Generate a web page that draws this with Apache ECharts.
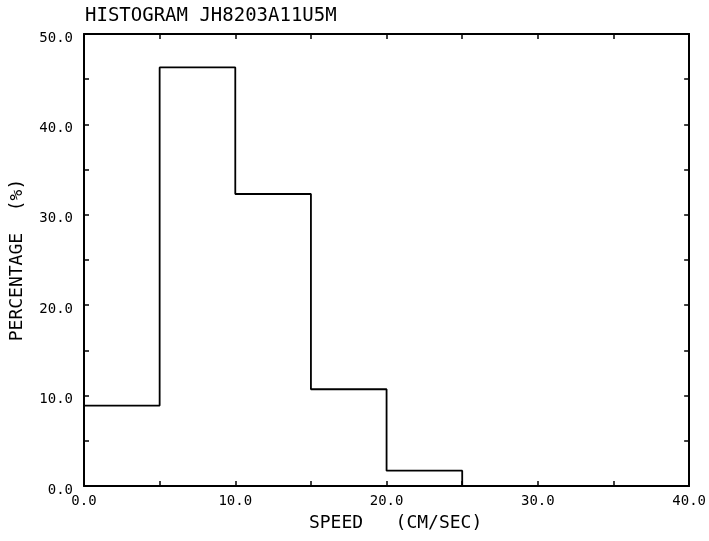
<!DOCTYPE html>
<html><head><meta charset="utf-8">
<script src="https://cdn.jsdelivr.net/npm/echarts@6/dist/echarts.min.js"></script>
<style>html,body{margin:0;padding:0;background:#fff}#c{width:709px;height:541px}</style>
</head><body><div id="c"></div>
<script>
const titleText = 'HISTOGRAM JH8203A11U5M';
const xName = 'SPEED   (CM/SEC)';
const yName = 'PERCENTAGE  (%)';
const binStarts = [0, 5, 10, 15, 20, 25, 30, 35];
const binEnd = 40;
const percentages = [8.9, 46.3, 32.3, 10.7, 1.7, 0, 0, 0];

const stepData = binStarts.map((s, i) => [s, percentages[i]]);
stepData.push([binEnd, percentages[percentages.length - 1]]);

const FONT = 'DejaVu Sans Mono';
const tickStyle = { inside: true, length: 5, lineStyle: { color: '#000', width: 1.5 } };
const lineStyle = { color: '#000', width: 2 };
const fmt = v => (v % 10 === 0 ? v.toFixed(1) : '');

const chart = echarts.init(document.getElementById('c'));
chart.setOption({
  animation: false,
  backgroundColor: '#fff',
  title: {
    text: titleText, left: 80, top: 2,
    textStyle: { fontFamily: FONT, fontSize: 19, fontWeight: 'normal', color: '#000' }
  },
  grid: { left: 84, right: 19, top: 34, bottom: 55 },
  xAxis: [{
    type: 'value', min: 0, max: 40, interval: 5, position: 'bottom',
    name: xName, nameLocation: 'middle', nameGap: 28,
    nameTextStyle: { fontFamily: FONT, fontSize: 18, color: '#000', padding: [0, 0, 0, 18] },
    axisLine: { show: true, onZero: false, lineStyle }, axisTick: tickStyle,
    axisLabel: { formatter: fmt, margin: 8, fontFamily: FONT, fontSize: 14, color: '#000' },
    splitLine: { show: false }
  }, {
    type: 'value', min: 0, max: 40, interval: 5, position: 'top',
    axisLine: { show: true, onZero: false, lineStyle }, axisTick: tickStyle,
    axisLabel: { show: false }, splitLine: { show: false }
  }],
  yAxis: [{
    type: 'value', min: 0, max: 50, interval: 5, position: 'left',
    name: yName, nameLocation: 'middle', nameGap: 58, nameRotate: 90,
    nameTextStyle: { fontFamily: FONT, fontSize: 18, color: '#000' },
    axisLine: { show: true, onZero: false, lineStyle }, axisTick: tickStyle,
    axisLabel: { formatter: fmt, margin: 11, verticalAlign: 'top', lineHeight: 8, fontFamily: FONT, fontSize: 14, color: '#000' },
    splitLine: { show: false }
  }, {
    type: 'value', min: 0, max: 50, interval: 5, position: 'right',
    axisLine: { show: true, onZero: false, lineStyle }, axisTick: tickStyle,
    axisLabel: { show: false }, splitLine: { show: false }
  }],
  series: [{
    type: 'line', xAxisIndex: 0, yAxisIndex: 0, step: 'end',
    data: stepData, symbol: 'none',
    lineStyle: { color: '#000', width: 1.8 }
  }]
});
</script></body></html>
